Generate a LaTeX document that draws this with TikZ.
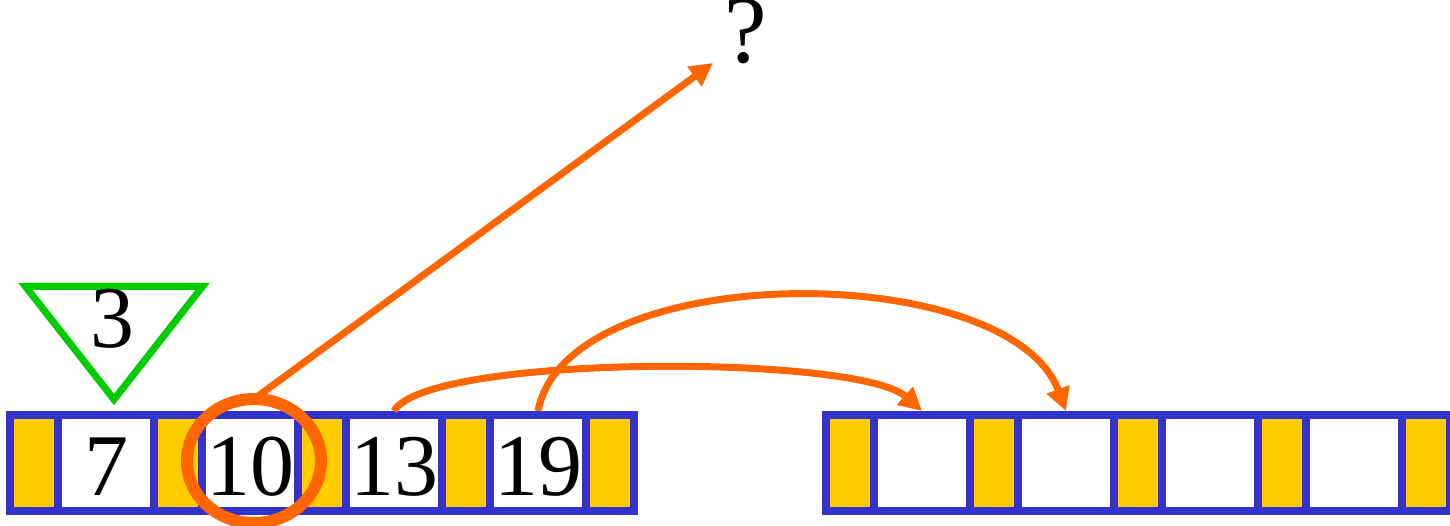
\documentclass[tikz,border=0pt]{standalone}
\usepackage{fontspec}
\setmainfont{Liberation Serif}
\usetikzlibrary{shapes.geometric,arrows.meta}
\definecolor{cellblue}{HTML}{3333CC}
\definecolor{cellyellow}{HTML}{FFCC00}
\definecolor{arrorange}{HTML}{FF6600}
\definecolor{trigreen}{HTML}{00CC00}
\begin{document}
\begin{tikzpicture}[x=1pt,y=-1pt,
  cell/.style={draw=cellblue, line width=8pt, inner sep=0pt, minimum height=96pt,
    text height=64pt, text depth=0pt, font=\fontsize{88}{88}\selectfont},
  ycell/.style={cell, fill=cellyellow, minimum width=48pt},
  wcell/.style={cell, fill=white, minimum width=96pt},
  ptr/.style={draw=arrorange, line width=7pt, -{Triangle[length=23pt,width=23pt]}},
  big/.style={font=\fontsize{88}{88}\selectfont, inner sep=0pt}
]
\useasboundingbox (0,0) rectangle (1450,526);
% left array
\node[ycell] (a1) at (34,463) {};
\node[wcell] (a2) at (106,463) {7};
\node[ycell] (a3) at (178,463) {};
\node[wcell] (a4) at (250,463) {10};
\node[ycell] (a5) at (322,463) {};
\node[wcell] (a6) at (394,463) {13};
\node[ycell] (a7) at (466,463) {};
\node[wcell] (a8) at (538,463) {19};
\node[ycell] (a9) at (610,463) {};
% right array
\node[ycell] (b1) at (850,463) {};
\node[wcell] (b2) at (922,463) {};
\node[ycell] (b3) at (994,463) {};
\node[wcell] (b4) at (1066,463) {};
\node[ycell] (b5) at (1138,463) {};
\node[wcell] (b6) at (1210,463) {};
\node[ycell] (b7) at (1282,463) {};
\node[wcell] (b8) at (1354,463) {};
\node[ycell] (b9) at (1426,463) {};
% triangle
\draw[trigreen, line width=7pt] (25.5,286.5) -- (202.5,286.5) -- (114,399.5) -- cycle;
\node[big, anchor=base] (three) at (112,347) {3};
% ring
\node[ellipse, draw=arrorange, line width=12pt, minimum width=134pt, minimum height=124pt, inner sep=0pt] (ring) at (254,461) {};
% question
\node[big, anchor=base, font=\fontsize{96}{96}\selectfont] (q) at (746,63) {?};
\coordinate (qtip) at (713,63);
\draw[ptr] ([yshift=-6pt]ring.north) -- (qtip);
\draw[ptr] (a6.north) .. controls (427,354) and (858,354) .. (b2.north);
\draw[ptr] (a8.north) .. controls (567,258) and (1009,258) .. (b4.north);
\end{tikzpicture}
\end{document}
